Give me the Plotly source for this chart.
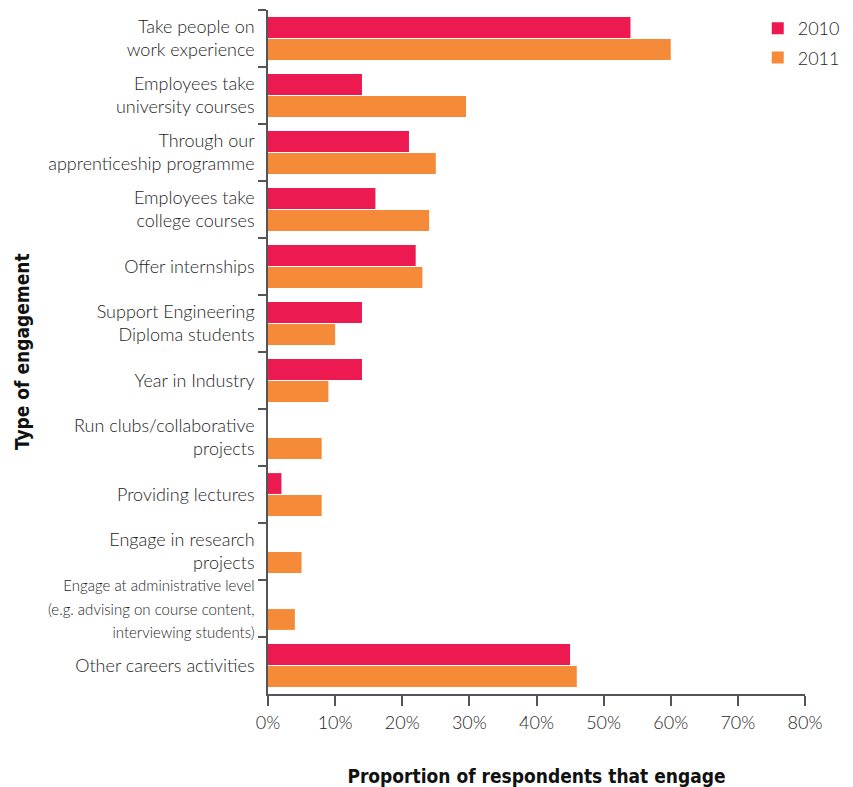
import plotly.graph_objects as go

# Engagement types, top to bottom
categories = [
    "Take people on<br>work experience",
    "Employees take<br>university courses",
    "Through our<br>apprenticeship programme",
    "Employees take<br>college courses",
    "Offer internships",
    "Support Engineering<br>Diploma students",
    "Year in Industry",
    "Run clubs/collaborative<br>projects",
    "Providing lectures",
    "Engage in research<br>projects",
    "<span style='font-size:15px'>Engage at administrative level<br>(e.g. advising on course content,<br>interviewing students)</span>",
    "Other careers activities",
]

# Share of respondents (%) per year; None = no response recorded
values_2010 = [54, 14, 21, 16, 22, 14, 14, None, 2, None, None, 45]
values_2011 = [60, 29.5, 25, 24, 23, 10, 9, 8, 8, 5, 4, 46]

x_ticks = [0, 10, 20, 30, 40, 50, 60, 70, 80]
x_tick_labels = [f"{v}%" for v in x_ticks]

RED = "#ed1a51"
ORANGE = "#f58b38"
TEXT = "#1e1e1e"
AXIS = "#555555"
BODY_FONT = "Lato, 'Open Sans', sans-serif"
TITLE_FONT = "'DejaVu Sans Condensed', sans-serif"

fig = go.Figure()
fig.add_trace(go.Bar(
    name="2010", y=categories, x=values_2010, orientation="h",
    legendgroup="y2010",
    marker=dict(color=RED, line=dict(width=0)),
))
fig.add_trace(go.Bar(
    name="2011", y=categories, x=values_2011, orientation="h",
    legendgroup="y2011",
    marker=dict(color=ORANGE, line=dict(width=0)),
))

fig.update_layout(
    width=853, height=787,
    margin=dict(l=268, r=48, t=10, b=93, autoexpand=False),
    paper_bgcolor="white", plot_bgcolor="white",
    barmode="group", bargap=0.23, bargroupgap=0.05,
    font=dict(family=BODY_FONT, size=18, color=TEXT, weight=300),
    legend=dict(
        x=0.912, y=1.0, xanchor="left", yanchor="top",
        font=dict(size=18, color=TEXT, weight=300), bgcolor="rgba(0,0,0,0)",
        itemwidth=30, traceorder="grouped", tracegroupgap=3,
    ),
    showlegend=True,
    annotations=[dict(
        text="<b>Type of engagement</b>", textangle=-90,
        xref="paper", yref="paper", x=(22 - 268) / 537, y=0.5,
        xanchor="center", yanchor="middle", showarrow=False,
        font=dict(family=TITLE_FONT, size=19, color="#111111"),
    )],
)

fig.update_xaxes(
    range=[0, 80], tickvals=x_ticks, ticktext=x_tick_labels,
    showgrid=False, zeroline=False, automargin=False,
    showline=True, linecolor=AXIS, linewidth=1.5,
    ticks="outside", ticklen=10, tickcolor=AXIS, tickwidth=1.5,
    ticklabelstandoff=2,
    tickfont=dict(size=18, color=TEXT, weight=300),
    title=dict(text="<b>Proportion of respondents that engage</b>",
               font=dict(family=TITLE_FONT, size=19, color="#111111"),
               standoff=44),
)

fig.update_yaxes(
    type="category", categoryorder="array", categoryarray=categories,
    autorange="reversed", automargin=False,
    showgrid=False, zeroline=False,
    showline=True, linecolor=AXIS, linewidth=1.5,
    ticks="outside", tickson="boundaries", ticklen=8,
    tickcolor=AXIS, tickwidth=1.5, ticklabelstandoff=8,
    tickfont=dict(size=18, color=TEXT, weight=300),
)

fig.write_html("out.html")
